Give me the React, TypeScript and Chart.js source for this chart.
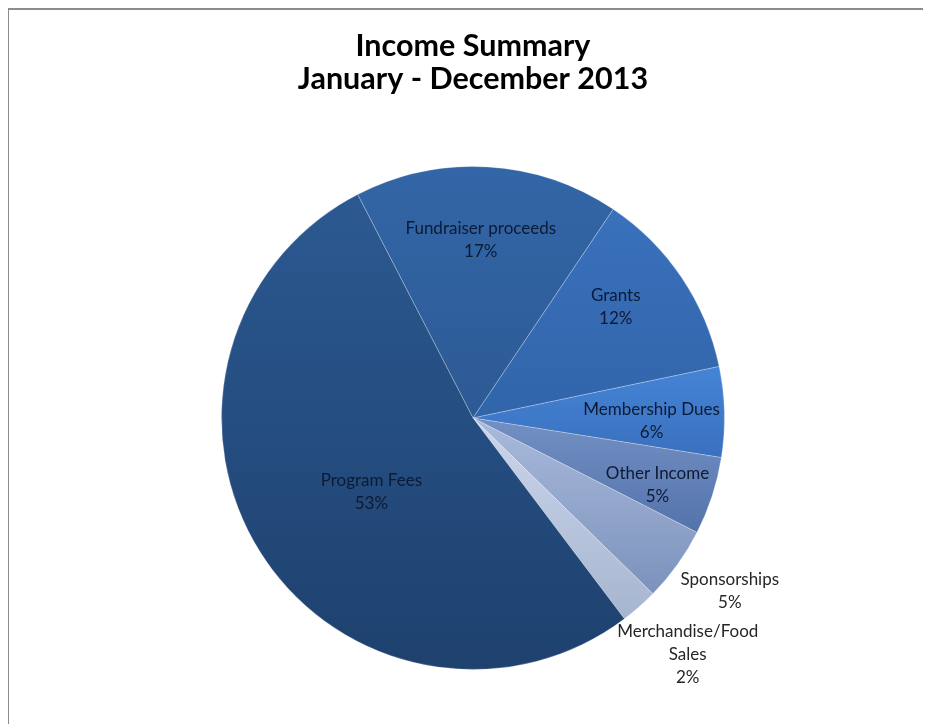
import React, { useEffect, useRef } from "react";
import { Chart, registerables } from "chart.js";

Chart.register(...registerables);

const TITLE_LINES = ["Income Summary", "January - December 2013"];
const CATEGORIES = [
  "Fundraiser proceeds",
  "Grants",
  "Membership Dues",
  "Other Income",
  "Sponsorships",
  "Merchandise/Food Sales",
  "Program Fees",
];
const LABEL_LINES = [
  ["Fundraiser proceeds"],
  ["Grants"],
  ["Membership Dues"],
  ["Other Income"],
  ["Sponsorships"],
  ["Merchandise/Food", "Sales"],
  ["Program Fees"],
];
const VALUES = [17.0, 12.3, 5.8, 5.0, 4.8, 2.4, 52.7];

const TOP_COLORS = ["#3366a7", "#3a71bc", "#4584d6", "#7390c4", "#a9badb", "#ccd6ea", "#2b5991"];
const BOTTOM_COLORS = ["#2c5a94", "#3165aa", "#3a70be", "#5473ab", "#7c92bc", "#a6b5d0", "#1e416e"];
const LABEL_RADIUS = [0.71, 0.72, 0.71, 0.78, 1.23, 1.27, 0.5];
const LABEL_ANGLE_SHIFT = [-0.8, -4, 2.3, 1.8, -1.8, -0.9, -3.9];
const START_ANGLE = -27.3;

const gradientPlugin = {
  id: "sliceGradient",
  beforeDatasetsDraw(chart: any) {
    const meta = chart.getDatasetMeta(0);
    const ctx = chart.ctx;
    meta.data.forEach((arc: any, i: number) => {
      const { x, y, startAngle, endAngle, outerRadius } = arc.getProps(
        ["x", "y", "startAngle", "endAngle", "outerRadius"],
        true
      );
      let minY = y;
      let maxY = y;
      const n = 48;
      for (let k = 0; k <= n; k++) {
        const a = startAngle + ((endAngle - startAngle) * k) / n;
        const py = y + outerRadius * Math.sin(a);
        minY = Math.min(minY, py);
        maxY = Math.max(maxY, py);
      }
      const g = ctx.createLinearGradient(0, minY, 0, maxY);
      g.addColorStop(0, TOP_COLORS[i]);
      g.addColorStop(1, BOTTOM_COLORS[i]);
      arc.options.backgroundColor = g;
    });
  },
};

const labelPlugin = {
  id: "sliceLabels",
  afterDatasetsDraw(chart: any) {
    const meta = chart.getDatasetMeta(0);
    const ctx = chart.ctx;
    const data = chart.data.datasets[0].data as number[];
    const total = data.reduce((a, b) => a + b, 0);
    ctx.save();
    ctx.font = "17px Lato";
    ctx.textAlign = "center";
    ctx.textBaseline = "middle";
    const lh = 23;
    meta.data.forEach((arc: any, i: number) => {
      const { x, y, startAngle, endAngle, outerRadius } = arc.getProps(
        ["x", "y", "startAngle", "endAngle", "outerRadius"],
        true
      );
      const mid = (startAngle + endAngle) / 2 + (LABEL_ANGLE_SHIFT[i] * Math.PI) / 180;
      const frac = LABEL_RADIUS[i];
      const r = outerRadius * frac;
      const px = x + r * Math.cos(mid);
      const py = y + r * Math.sin(mid);
      const pct = Math.round((data[i] / total) * 100) + "%";
      const lines = [...LABEL_LINES[i], pct];
      ctx.fillStyle = frac > 1 ? "#262626" : "#0c1a34";
      const top = py - ((lines.length - 1) * lh) / 2;
      lines.forEach((t, k) => ctx.fillText(t, px, top + k * lh));
    });
    ctx.restore();
  },
};

export default function App() {
  const ref = useRef<HTMLCanvasElement | null>(null);
  useEffect(() => {
    if (!ref.current) return;
    const chart = new Chart(ref.current, {
      type: "pie",
      data: {
        labels: CATEGORIES,
        datasets: [
          {
            data: VALUES,
            backgroundColor: BOTTOM_COLORS,
            borderColor: "rgba(255,255,255,0.25)",
            borderWidth: 1,
          },
        ],
      },
      options: {
        animation: false,
        responsive: false,
        rotation: START_ANGLE,
        layout: { padding: { left: 8, right: 0, top: 0, bottom: 54 } },
        plugins: {
          legend: { display: false },
          tooltip: { enabled: false },
          title: {
            display: true,
            text: TITLE_LINES,
            color: "#000000",
            font: { family: "Lato", size: 30.5, weight: "bold", lineHeight: "33px" },
            padding: { top: 20, bottom: 70 },
          },
        },
      },
      plugins: [gradientPlugin, labelPlugin],
    });
    return () => chart.destroy();
  }, []);
  return (
    <div
      style={{
        marginLeft: -1,
        borderTop: "2px solid #8c8c8c",
        borderLeft: "2px solid #8c8c8c",
        width: 922,
        height: 716,
        background: "#ffffff",
      }}
    >
      <canvas ref={ref} width={920} height={714} style={{ display: "block" }} />
    </div>
  );
}
